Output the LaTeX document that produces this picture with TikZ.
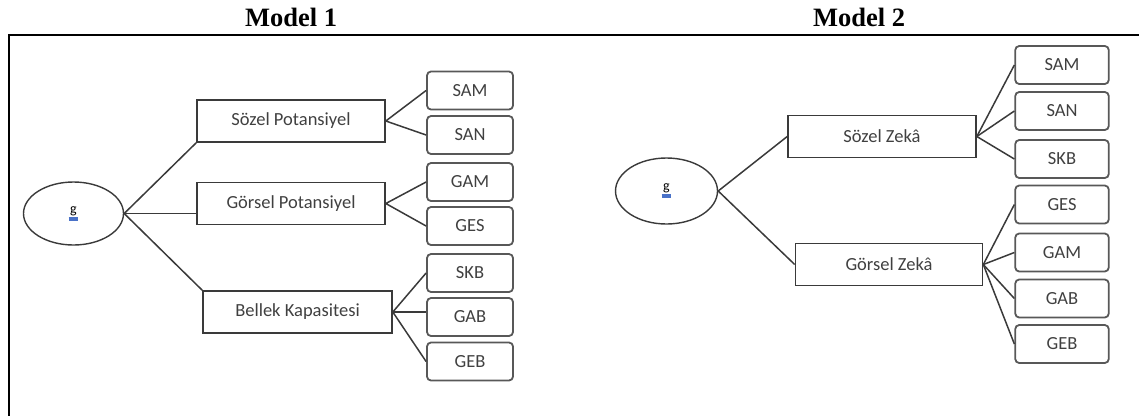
\documentclass[tikz,border=0pt]{standalone}
\usepackage{fontspec}
\setmainfont{Liberation Serif}
\newfontfamily\boxfont{Carlito}
\usetikzlibrary{shapes.geometric,positioning}
\definecolor{linegray}{HTML}{3A3A3A}
\definecolor{textgray}{HTML}{404040}
\definecolor{gblue}{HTML}{4A72C8}
\tikzstyle{factor} = [rectangle, draw=linegray, line width=1.6pt, minimum width=188pt,
minimum height=42pt, inner sep=0pt, text=textgray, font=\boxfont\fontsize{18.5}{20}\selectfont]
\tikzstyle{test} = [rectangle, rounded corners=4pt, draw=linegray!85, line width=1.8pt,
minimum height=38pt, inner sep=0pt, text=textgray, font=\boxfont\fontsize{18.5}{20}\selectfont]
\tikzstyle{gen} = [ellipse, draw=linegray, line width=1.4pt, inner sep=0pt]
\tikzstyle{link} = [draw=linegray, line width=1.5pt]
\tikzset{title/.style={anchor=base, font=\bfseries\fontsize{26.5}{30}\selectfont}}
\newcommand{\gsym}{{\boxfont\fontsize{14}{14}\selectfont\rlap{\hspace{-1.5pt}\textcolor{gblue}{\rule[-7.5pt]{9pt}{4pt}}}g}}

\begin{document}
\begin{tikzpicture}[x=1pt, y=-1pt]
            \useasboundingbox (0,0) rectangle (1139,416);
            \node[title] (t1) at (291,26.7) {Model 1};
            \node[title] (t2) at (859,26.7) {Model 2};
            \draw[line width=2pt] (8,34.5) -- (1139,34.5);
            \draw[line width=2.2pt] (9,34.5) -- (9,416);

            % model 1
            \node[gen, minimum width=100pt, minimum height=63pt] (g1) at (73.5,213.5) {\gsym};
            \node[factor] (sp1) at (291,121) {Sözel Potansiyel};
            \node[factor] (gp1) at (291,203.5) {Görsel Potansiyel};
            \node[factor, minimum width=189pt] (bk1) at (297.5,312) {Bellek Kapasitesi};
            \node[test, minimum width=86pt] (sam1) at (470,90.5) {SAM};
            \node[test, minimum width=86pt] (san1) at (470,135) {SAN};
            \node[test, minimum width=86pt] (gam1) at (470,182) {GAM};
            \node[test, minimum width=86pt] (ges1) at (470,226) {GES};
            \node[test, minimum width=86pt] (skb1) at (470,273) {SKB};
            \node[test, minimum width=86pt] (gab1) at (470,317) {GAB};
            \node[test, minimum width=86pt] (geb1) at (470,361.5) {GEB};
            \draw[link] (g1.east) -- (sp1.south west);
            \draw[link] (g1.east) -- (g1.east -| gp1.west);
            \draw[link] (g1.east) -- (bk1.north west);
            \draw[link] (sam1.west) -- (sp1.east) -- (san1.west);
            \draw[link] (gam1.west) -- (gp1.east) -- (ges1.west);
            \draw[link] (skb1.west) -- (bk1.east) -- (geb1.west);
            \draw[link] (bk1.east) -- (bk1.east -| gab1.west);

            % model 2
            \node[gen, minimum width=102pt, minimum height=66pt] (g2) at (666.5,191) {\gsym};
            \node[factor] (sz2) at (882,136.5) {Sözel Zekâ};
            \node[factor, minimum width=187pt] (gz2) at (889,264.5) {Görsel Zekâ};
            \node[test, minimum width=93.5pt] (sam2) at (1062,65) {SAM};
            \node[test, minimum width=93.5pt] (san2) at (1062,111) {SAN};
            \node[test, minimum width=93.5pt] (skb2) at (1062,159) {SKB};
            \node[test, minimum width=93.5pt] (ges2) at (1062,204.5) {GES};
            \node[test, minimum width=93.5pt] (gam2) at (1062,252.5) {GAM};
            \node[test, minimum width=93.5pt] (gab2) at (1062,298.5) {GAB};
            \node[test, minimum width=93.5pt] (geb2) at (1062,344) {GEB};
            \draw[link] (sz2.west) -- (g2.east) -- (gz2.west);
            \draw[link] (sam2.west) -- (sz2.east) -- (skb2.west);
            \draw[link] (sz2.east) -- (san2.west);
            \draw[link] (ges2.west) -- (gz2.east) -- (geb2.west);
            \draw[link] (gam2.west) -- (gz2.east) -- (gab2.west);
        \end{tikzpicture}
\end{document}
